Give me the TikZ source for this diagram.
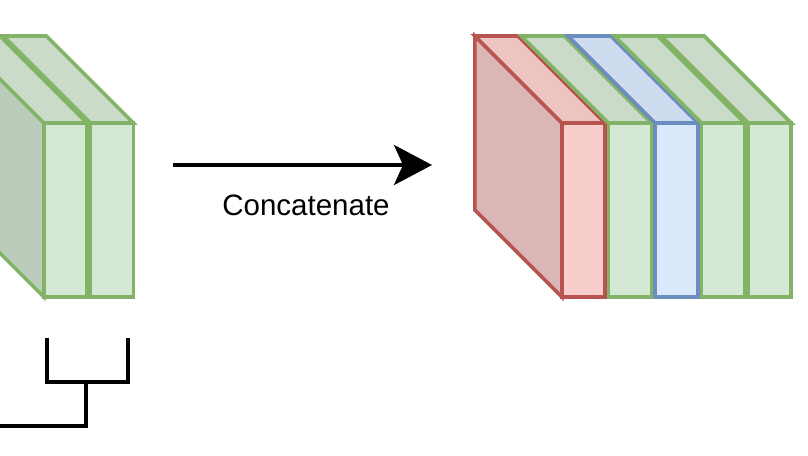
\documentclass[tikz,border=0pt]{standalone}
\usepackage{fontspec}
\setmainfont{Liberation Sans}
\usetikzlibrary{arrows.meta}

\definecolor{grnFill}{HTML}{D5E8D4}
\definecolor{grnLine}{HTML}{82B366}
\definecolor{redFill}{HTML}{F8CECC}
\definecolor{redLine}{HTML}{B85450}
\definecolor{bluFill}{HTML}{DAE8FC}
\definecolor{bluLine}{HTML}{6C8EBF}

\begin{document}
\begin{tikzpicture}[
  x=1pt, y=-1pt,
  face/.style={line width=3.6pt, line join=miter},
  arrow/.style={-{Stealth[length=38pt, width=40pt, inset=9pt]}, line width=4pt},
  tree/.style={line width=4pt, line join=miter},
  label/.style={font=\fontsize{29.5}{34}\selectfont, anchor=base},
]
\clip (0,0) rectangle (808,455);

% Left stack: side face of the first slab (runs off the frame)
\draw[face, draw=grnLine, fill=grnFill!88!black]
  (43.8,123) -- (-43.2,36) -- (-43.2,210) -- (43.8,297) -- cycle;

% Left stack slabs: front x, colour
\foreach \x/\c in {42/grn, 88.6/grn} {
  \draw[face, draw=\c Line, fill=\c Fill!95!black]
    (\x+1.8,123) -- (\x+44.8,123) -- (\x-42.2,36) -- (\x-85.2,36) -- cycle;
  \draw[face, draw=\c Line, fill=\c Fill] (\x+1.8,123) rectangle (\x+44.8,297);
}

% Right stack: side face of the red slab
\draw[face, draw=redLine, fill=redFill!89!black]
  (561.8,123) -- (474.8,36) -- (474.8,210) -- (561.8,297) -- cycle;

% Right stack slabs
\foreach \x/\c in {560/red, 606.6/grn, 653.2/blu, 699.8/grn, 746.4/grn} {
  \draw[face, draw=\c Line, fill=\c Fill!95!black]
    (\x+1.8,123) -- (\x+44.8,123) -- (\x-42.2,36) -- (\x-85.2,36) -- cycle;
  \draw[face, draw=\c Line, fill=\c Fill] (\x+1.8,123) rectangle (\x+44.8,297);
}

% Concatenate arrow
\coordinate (arrowFrom) at (173,165);
\coordinate (arrowTo) at (432,165);
\draw[arrow] (arrowFrom) -- (arrowTo);
\node[label] (concatLbl) at (306,215) {Concatenate};

% Tree bracket below the left stack
\coordinate (leafA) at (47,338);
\coordinate (leafB) at (128,338);
\coordinate (joint) at (86,382);
\coordinate (stem) at (-10,426);
\draw[tree] (leafA) |- (joint) -| (leafB);
\draw[tree] (joint) |- (stem);

\end{tikzpicture}
\end{document}
